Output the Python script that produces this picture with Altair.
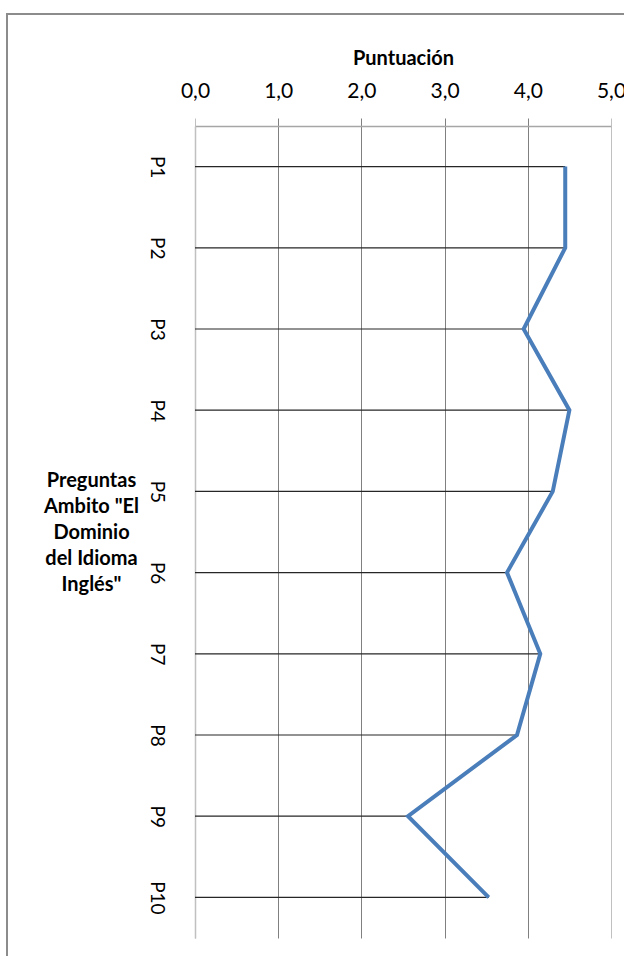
import altair as alt
import pandas as pd

preguntas = ["P1", "P2", "P3", "P4", "P5", "P6", "P7", "P8", "P9", "P10"]
puntuacion = [4.45, 4.45, 3.95, 4.50, 4.30, 3.75, 4.15, 3.87, 2.56, 3.53]
x_ticks = [0, 1, 2, 3, 4, 5]

df = pd.DataFrame({"pregunta": preguntas, "valor": puntuacion,
                   "idx": list(range(len(preguntas))), "cero": [0] * len(preguntas)})

FONT = "Lato"
light = "#c0c0c0"
dark = "#808080"

x_enc = alt.X("valor:Q",
              scale=alt.Scale(domain=[0, 5], nice=False, zero=True),
              axis=alt.Axis(orient="top", values=x_ticks, title="Puntuación",
                            labelExpr="replace(format(datum.value, '.1f'), '.', ',')",
                            labelFlush=False, labelOverlap=False,
                            grid=True,
                            gridColor=alt.condition("datum.value == 0 || datum.value == 5",
                                                    alt.value(light), alt.value(dark)),
                            tickColor=alt.condition("datum.value == 0 || datum.value == 5",
                                                    alt.value(light), alt.value(dark)),
                            gridWidth=1, tickSize=8, tickWidth=1,
                            domainColor="#a6a6a6", domainWidth=1.5,
                            labelFont=FONT, labelFontSize=21, labelColor="#000000",
                            labelPadding=17,
                            titleFont=FONT, titleFontSize=20, titleFontWeight="bold",
                            titleColor="#000000", titlePadding=12))

y_enc = alt.Y("pregunta:N", sort=preguntas,
              scale=alt.Scale(type="point", padding=0.5),
              axis=alt.Axis(title=["Preguntas", "Ambito \"El", "Dominio", "del Idioma", "Inglés\""],
                            titleAngle=0, titleAlign="center", titleBaseline="middle",
                            titleX=-104, titleY=354, titleLineHeight=26,
                            titleFont=FONT, titleFontSize=20, titleFontWeight="bold",
                            titleColor="#000000",
                            labelAngle=90, labelAlign="center", labelBaseline="top",
                            labelPadding=30, ticks=False, grid=False,
                            labelFont=FONT, labelFontSize=19, labelColor="#000000",
                            domainColor=light, domainWidth=1.5))

base = alt.Chart(df)

rules = base.mark_rule(color="#262626", strokeWidth=1.2).encode(
    x=x_enc, x2="cero:Q", y=y_enc)

line = base.mark_line(color="#4a7ebb", strokeWidth=4, strokeJoin="miter").encode(
    x="valor:Q", y=alt.Y("pregunta:N", sort=preguntas), order="idx:Q")

frame = alt.Chart(pd.DataFrame({"a": [0]})).mark_rect(
    fill=None, stroke="#8c8c8c", strokeWidth=2).encode(
    x=alt.value(-188), x2=alt.value(700), y=alt.value(-112), y2=alt.value(1100))

chart = alt.layer(frame, rules, line).properties(
    width=416, height=812,
    autosize=alt.AutoSizeParams(type="none"),
    padding={"left": 195, "top": 126, "right": 13, "bottom": 18},
    background="#ffffff",
).configure_view(stroke=None)

chart.save("out.html", embed_options={"renderer": "svg", "actions": False})
